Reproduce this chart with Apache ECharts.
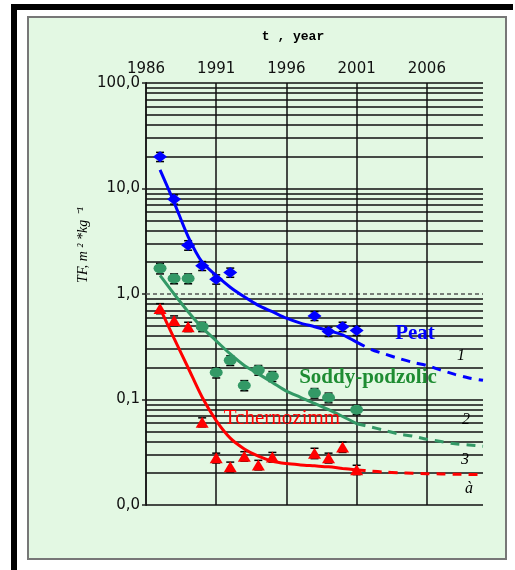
<!DOCTYPE html>
<html>
<head>
<meta charset="utf-8">
<title>TF dynamics</title>
<script src="https://cdn.jsdelivr.net/npm/echarts@6/dist/echarts.min.js"></script>
<style>
  html, body { margin: 0; padding: 0; background: #ffffff; }
  #chart { width: 515px; height: 570px; }
</style>
</head>
<body>
<div id="chart"></div>
<script>
// Observation years and transfer factors (TF, m2/kg) for the three soils
const peatYears = [1987, 1988, 1989, 1990, 1991, 1992, 1998, 1999, 2000, 2001];
const peatTF = [20, 7.9, 2.9, 1.85, 1.38, 1.6, 0.62, 0.44, 0.49, 0.45];
const peatErr = [2, 0.8, 0.3, 0.18, 0.14, 0.16, 0.06, 0.045, 0.05, 0.045];

const podzolYears = [1987, 1988, 1989, 1990, 1991, 1992, 1993, 1994, 1995, 1998, 1999, 2001];
const podzolTF = [1.75, 1.4, 1.4, 0.49, 0.18, 0.235, 0.136, 0.19, 0.166, 0.115, 0.104, 0.08];
const podzolErr = [0.2, 0.15, 0.15, 0.05, 0.02, 0.025, 0.015, 0.02, 0.018, 0.012, 0.011, 0.008];

const chernYears = [1987, 1988, 1989, 1990, 1991, 1992, 1993, 1994, 1995, 1998, 1999, 2000, 2001];
const chernTF = [0.73, 0.56, 0.49, 0.061, 0.028, 0.023, 0.029, 0.024, 0.0285, 0.031, 0.028, 0.0355, 0.0216];
const chernErr = [0.08, 0.06, 0.05, 0.006, 0.003, 0.0025, 0.003, 0.0025, 0.003, 0.0035, 0.003, 0.004, 0.0022];

// Fitted curves over the observation period and their forecast continuation
const fitYears = [1987, 1988, 1989, 1990, 1991, 1992, 1993, 1994, 1995, 1996, 1997, 1998, 1999, 2000, 2001];
const peatFit = [15, 7.4, 3.5, 2.0, 1.5, 1.16, 0.94, 0.78, 0.68, 0.59, 0.53, 0.49, 0.45, 0.41, 0.35];
const podzolFit = [1.5, 1.0, 0.68, 0.48, 0.36, 0.27, 0.21, 0.175, 0.145, 0.12, 0.105, 0.092, 0.08, 0.069, 0.059];
const chernFit = [0.73, 0.38, 0.2, 0.105, 0.063, 0.043, 0.034, 0.029, 0.026, 0.0247, 0.024, 0.0235, 0.023, 0.0222, 0.0215];

const trendYears = [2001, 2002, 2003, 2004, 2005, 2006, 2007, 2008, 2009, 2010];
const peatTrend = [0.35, 0.30, 0.27, 0.245, 0.225, 0.21, 0.19, 0.173, 0.16, 0.152];
const podzolTrend = [0.059, 0.055, 0.051, 0.047, 0.045, 0.042, 0.040, 0.038, 0.037, 0.036];
const chernTrend = [0.0215, 0.021, 0.0205, 0.0202, 0.020, 0.0198, 0.0197, 0.0196, 0.0195, 0.0195];

// Axis ranges and grid values
const yearMin = 1986, yearMax = 2010, yearStep = 5;
const tfMin = 0.01, tfMax = 100;
const yearGrid = [1991, 1996, 2001, 2006];
const tfGrid = [0.01, 0.02, 0.03, 0.04, 0.05, 0.06, 0.07, 0.08, 0.09, 0.1,
                0.2, 0.3, 0.4, 0.5, 0.6, 0.7, 0.8, 0.9,
                2, 3, 4, 5, 6, 7, 8, 9, 10,
                20, 30, 40, 50, 60, 70, 80, 90, 100];

const BLUE = '#0000ff', GREEN = '#339966', RED = '#ff0000';

const pairs = (xs, ys) => xs.map((x, i) => [x, ys[i]]);
const triples = (xs, ys, es) => xs.map((x, i) => [x, ys[i], es[i]]);

// Error bar caps only; the stem stays hidden behind the marker
function errorBars(name, xs, ys, es) {
  return {
    name: name + ' error', type: 'custom', z: 3, silent: true,
    data: triples(xs, ys, es),
    renderItem: function (params, api) {
      const x = api.value(0), y = api.value(1), e = api.value(2);
      const hi = api.coord([x, y + e]);
      const lo = api.coord([x, y - e]);
      const w = 4;
      const style = { stroke: '#000', lineWidth: 1.5 };
      return {
        type: 'group',
        children: [
          { type: 'line', shape: { x1: hi[0] - w, y1: hi[1], x2: hi[0] + w, y2: hi[1] }, style: style },
          { type: 'line', shape: { x1: lo[0] - w, y1: lo[1], x2: lo[0] + w, y2: lo[1] }, style: style }
        ]
      };
    }
  };
}

function fitLine(name, xs, ys, color, dashed) {
  return {
    name: name, type: 'line', z: 4, smooth: 0.3, showSymbol: false, silent: true,
    data: pairs(xs, ys),
    lineStyle: { color: color, width: 3, type: dashed ? [9, 7] : 'solid' }
  };
}

function points(name, xs, ys, color, symbol, size) {
  return {
    name: name, type: 'scatter', z: 5, symbol: symbol, symbolSize: size,
    data: pairs(xs, ys),
    itemStyle: { color: color, opacity: 1 }
  };
}

const gridLines = tfGrid.map(v => ({ yAxis: v }))
  .concat([{ yAxis: 1, lineStyle: { color: '#555', width: 1.5, type: [4, 3] } }])
  .concat(yearGrid.map(v => ({ xAxis: v })));

const chart = echarts.init(document.getElementById('chart'), null, { renderer: 'canvas' });

chart.setOption({
  animation: false,
  backgroundColor: '#ffffff',
  graphic: [
    { type: 'rect', z: -10, shape: { x: 28, y: 17, width: 478, height: 542 },
      style: { fill: '#e3f8e3', stroke: '#777', lineWidth: 2 } },
    { type: 'rect', z: -10, shape: { x: 11, y: 4, width: 502, height: 6 }, style: { fill: '#000' } },
    { type: 'rect', z: -10, shape: { x: 11, y: 4, width: 6, height: 566 }, style: { fill: '#000' } },
    { type: 'text', z: 20, x: 293, y: 37,
      style: { text: 't , year', font: 'bold 13px "Liberation Mono"', fill: '#000',
               textAlign: 'center', textVerticalAlign: 'middle' } },
    { type: 'text', z: 20, x: 83, y: 245, rotation: Math.PI / 2,
      style: { text: 'TF, m \u00b2 *kg \u207b\u00b9', font: 'italic 14px "Liberation Serif"', fill: '#000',
               textAlign: 'center', textVerticalAlign: 'middle' } },
    { type: 'text', z: 20, x: 415, y: 334,
      style: { text: 'Peat', font: 'bold 21px "Liberation Serif"', fill: BLUE,
               textAlign: 'center', textVerticalAlign: 'middle' } },
    { type: 'text', z: 20, x: 368, y: 378,
      style: { text: 'Soddy-podzolic', font: 'bold 21px "Liberation Serif"', fill: '#1e8c32',
               textAlign: 'center', textVerticalAlign: 'middle' } },
    { type: 'text', z: 20, x: 282, y: 418,
      style: { text: 'Tchernozimm', font: '21px "Liberation Serif"', fill: RED,
               textAlign: 'center', textVerticalAlign: 'middle' } },
    { type: 'text', z: 20, x: 461, y: 356,
      style: { text: '1', font: 'italic 16px "Liberation Serif"', fill: '#000',
               textAlign: 'center', textVerticalAlign: 'middle' } },
    { type: 'text', z: 20, x: 466, y: 420,
      style: { text: '2', font: 'italic 16px "Liberation Serif"', fill: '#000',
               textAlign: 'center', textVerticalAlign: 'middle' } },
    { type: 'text', z: 20, x: 465, y: 460,
      style: { text: '3', font: 'italic 16px "Liberation Serif"', fill: '#000',
               textAlign: 'center', textVerticalAlign: 'middle' } },
    { type: 'text', z: 20, x: 469, y: 489,
      style: { text: '\u00e0', font: 'italic 16px "Liberation Serif"', fill: '#000',
               textAlign: 'center', textVerticalAlign: 'middle' } }
  ],
  grid: { left: 146, right: 32, top: 83, bottom: 65, containLabel: false },
  xAxis: {
    type: 'value', position: 'top', min: yearMin, max: yearMax, interval: yearStep,
    axisLine: { show: false }, axisTick: { show: false }, splitLine: { show: false },
    axisLabel: {
      margin: 6, color: '#111', fontFamily: 'DejaVu Sans', fontSize: 15,
      formatter: v => (v === yearMax ? '' : String(v))
    }
  },
  yAxis: {
    type: 'log', logBase: 10, min: tfMin, max: tfMax,
    axisLine: { show: true, lineStyle: { color: '#222', width: 2 } },
    axisTick: { show: true, length: 4, lineStyle: { color: '#222', width: 1.5 } },
    splitLine: { show: false },
    axisLabel: {
      margin: 6, color: '#111', fontFamily: 'DejaVu Sans', fontSize: 15,
      formatter: v => Number(v).toFixed(1).replace('.', ',')
    }
  },
  series: [
    {
      name: 'grid', type: 'line', z: 1, silent: true, showSymbol: false,
      data: [[yearMin, tfMin]],
      markLine: {
        z: 1, silent: true, symbol: 'none', animation: false,
        label: { show: false },
        lineStyle: { color: '#111', width: 1.5, type: 'solid' },
        data: gridLines
      }
    },
    fitLine('Peat fit', fitYears, peatFit, BLUE, false),
    fitLine('Peat trend', trendYears, peatTrend, BLUE, true),
    fitLine('Soddy-podzolic fit', fitYears, podzolFit, GREEN, false),
    fitLine('Soddy-podzolic trend', trendYears, podzolTrend, GREEN, true),
    fitLine('Tchernozimm fit', fitYears, chernFit, RED, false),
    fitLine('Tchernozimm trend', trendYears, chernTrend, RED, true),
    errorBars('Peat', peatYears, peatTF, peatErr),
    errorBars('Soddy-podzolic', podzolYears, podzolTF, podzolErr),
    errorBars('Tchernozimm', chernYears, chernTF, chernErr),
    points('Peat', peatYears, peatTF, BLUE, 'diamond', [14, 11]),
    points('Soddy-podzolic', podzolYears, podzolTF, GREEN, 'circle', [13, 10]),
    points('Tchernozimm', chernYears, chernTF, RED, 'triangle', [13, 11])
  ]
});
</script>
</body>
</html>
